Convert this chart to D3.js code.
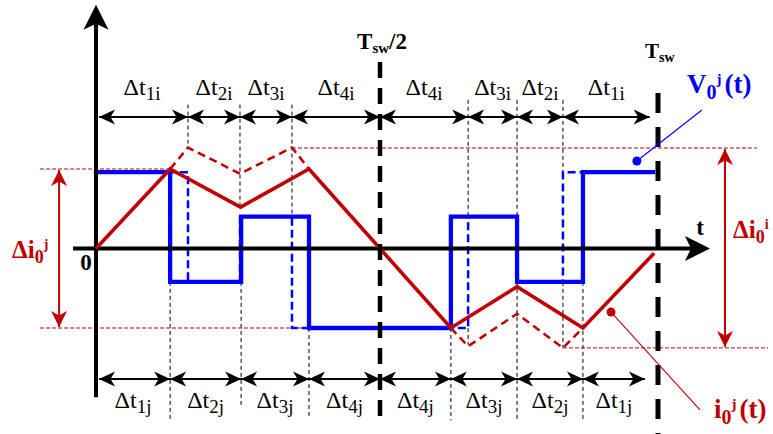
<!DOCTYPE html>
<html>
<head>
<meta charset="utf-8">
<script src="https://cdn.jsdelivr.net/npm/d3@7"></script>
<style>
  html, body { margin: 0; padding: 0; background: #fff; }
  svg { display: block; }
</style>
</head>
<body>
<div id="chart"></div>
<script>
// time axis: 0..200 = one switching period (100 = Tsw/2)
// value axis: normalised so that the j-current ripple spans -1..1

// interval boundaries (i = dashed waveforms, j = solid waveforms)
var tI = [0, 32.4, 50.7, 69, 100, 131.7, 149.3, 165.8, 197];
var tJ = [0, 26.1, 51.1, 75, 100, 125.5, 149.3, 173, 195.3];
var subI = ['1i', '2i', '3i', '4i', '4i', '3i', '2i', '1i'];
var subJ = ['1j', '2j', '3j', '4j', '4j', '3j', '2j', '1j'];

// output voltage level in each interval
var vLevelsJ = [0.96, -0.42, 0.4, -1, -1, 0.4, -0.42, 0.96];
var vLevelsI = [0.96, -0.42, 0.4, -1, -1, 0.4, -0.42, 0.96];
var vEnd = 198.2;

// output current, solid (j)
var iJt = [0, 26.1, 50.9, 75, 100, 125.5, 149.3, 173, 198.6];
var iJv = [0, 1, 0.52, 1, 0, -1, -0.48, -1, -0.06];
// output current, dashed (i) — upper and lower excursions
var iUpT = [26.1, 32.4, 50.7, 69, 75];
var iUpV = [1, 1.27, 0.94, 1.27, 1];
var iDnT = [125.5, 131.7, 149.3, 165.8, 173];
var iDnV = [-1, -1.23, -0.82, -1.25, -1];

var width = 773, height = 434;
var RED = '#c00000', BLUE = '#0000ff';
var FONT = '"Liberation Serif", "Times New Roman", Times, "DejaVu Serif", serif';

var x = d3.scaleLinear().domain([0, 100, 200]).range([96, 380, 658]);
var y = d3.scaleLinear().domain([-1, 1]).range([328, 169]);

var svg = d3.select('#chart').append('svg')
  .attr('width', width)
  .attr('height', height)
  .attr('viewBox', [0, 0, width, height]);

var defs = svg.append('defs');
function marker(id, color, len, half, notch, back) {
  defs.append('marker')
    .attr('id', id)
    .attr('markerUnits', 'userSpaceOnUse')
    .attr('viewBox', [-len - 2, -half - 2, len + back + 4, 2 * half + 4].join(' '))
    .attr('markerWidth', len + back + 4)
    .attr('markerHeight', 2 * half + 4)
    .attr('refX', -back)
    .attr('refY', 0)
    .attr('orient', 'auto-start-reverse')
    .append('path')
      .attr('d', 'M0,0L' + (-len) + ',' + (-half) + 'L' + (-len + notch) + ',0L' + (-len) + ',' + half + 'Z')
      .attr('fill', color);
}
marker('arrK', '#000', 16, 7.5, 4.5, 0);
marker('arrR', RED, 16, 8, 4.5, 0);
marker('arrAxis', '#000', 25, 12.5, 6, 10);

var line = d3.line().x(function (d) { return x(d[0]); }).y(function (d) { return y(d[1]); });
var step = d3.line().x(function (d) { return x(d[0]); }).y(function (d) { return y(d[1]); }).curve(d3.curveStepAfter);

function zip(ts, vs) { return ts.map(function (t, k) { return [t, vs[k]]; }); }
function stepPts(bounds, levels) {
  var pts = levels.map(function (v, k) { return [bounds[k], v]; });
  pts.push([vEnd, levels[levels.length - 1]]);
  return pts;
}

// thin black dashed boundary markers [t, vFrom, vTo]
var guides = [
  [32.4, 1.81, 1.27], [50.7, 1.81, 0.52], [69, 1.81, 0.4],
  [131.7, 1.87, 0.4], [131.7, -1.0, -1.21],
  [149.3, 1.87, 0.4], [149.3, -0.42, -2.16],
  [165.8, 1.87, 0.96], [165.8, -0.42, -1.25],
  [26.1, -0.42, -2.16], [51.1, -0.42, -2.0], [75, -1, -2.12],
  [125.5, -1, -2.16], [173, -0.42, -2.16]
];
svg.append('g').selectAll('line').data(guides).join('line')
  .attr('x1', function (d) { return x(d[0]); })
  .attr('x2', function (d) { return x(d[0]); })
  .attr('y1', function (d) { return y(d[1]); })
  .attr('y2', function (d) { return y(d[2]); })
  .attr('stroke', '#000')
  .attr('stroke-width', 1)
  .attr('stroke-dasharray', '4,3');

// red thin dashed ripple limits [tFrom, tTo, v]
var limits = [[-19.7, 26.1, 1], [-19.7, 75, -1], [69, 235.6, 1.264], [165.8, 239.6, -1.25]];
svg.append('g').selectAll('line').data(limits).join('line')
  .attr('x1', function (d) { return x(d[0]); })
  .attr('x2', function (d) { return x(d[1]); })
  .attr('y1', function (d) { return y(d[2]); })
  .attr('y2', function (d) { return y(d[2]); })
  .attr('stroke', RED)
  .attr('stroke-width', 1)
  .attr('stroke-dasharray', '4,2');

// voltage: dashed (i) under solid (j)
svg.append('path')
  .attr('d', step(stepPts(tI, vLevelsI)))
  .attr('fill', 'none').attr('stroke', BLUE).attr('stroke-width', 2.5)
  .attr('stroke-dasharray', '8,4');
svg.append('path')
  .attr('d', step(stepPts(tJ, vLevelsJ)))
  .attr('fill', 'none').attr('stroke', BLUE).attr('stroke-width', 4.3)
  .attr('stroke-linejoin', 'miter').attr('stroke-linecap', 'square');

// axes
svg.append('line')
  .attr('x1', x(0)).attr('x2', x(0))
  .attr('y1', y(-1.87)).attr('y2', y(2.94))
  .attr('stroke', '#000').attr('stroke-width', 4)
  .attr('marker-end', 'url(#arrAxis)');
svg.append('line')
  .attr('x1', x(-8.1)).attr('x2', x(215.1))
  .attr('y1', y(0)).attr('y2', y(0))
  .attr('stroke', '#000').attr('stroke-width', 4)
  .attr('marker-end', 'url(#arrAxis)');

// current: dashed (i) then solid (j)
[zip(iUpT, iUpV), zip(iDnT, iDnV)].forEach(function (pts) {
  svg.append('path')
    .attr('d', line(pts))
    .attr('fill', 'none').attr('stroke', RED).attr('stroke-width', 2.5)
    .attr('stroke-dasharray', '8,5');
});
svg.append('path')
  .attr('d', line(zip(iJt, iJv)))
  .attr('fill', 'none').attr('stroke', RED).attr('stroke-width', 3.6)
  .attr('stroke-linejoin', 'miter');

// Tsw/2 and Tsw
svg.append('line')
  .attr('x1', x(100)).attr('x2', x(100))
  .attr('y1', y(2.346)).attr('y2', y(-2.12))
  .attr('stroke', '#000').attr('stroke-width', 4.5)
  .attr('stroke-dasharray', '16,10');
svg.append('line')
  .attr('x1', x(200)).attr('x2', x(200))
  .attr('y1', y(1.956)).attr('y2', y(-2.35))
  .attr('stroke', '#000').attr('stroke-width', 5)
  .attr('stroke-dasharray', '20,14');

// interval arrows
function intervalRow(bounds, vRow) {
  var segs = d3.pairs(bounds);
  svg.append('g').selectAll('line').data(segs).join('line')
    .attr('x1', function (d, k) { return x(d[0]) + (k === 0 ? 3 : 0); })
    .attr('x2', function (d) { return x(d[1]); })
    .attr('y1', y(vRow)).attr('y2', y(vRow))
    .attr('stroke', '#000').attr('stroke-width', 2)
    .attr('marker-start', 'url(#arrK)')
    .attr('marker-end', 'url(#arrK)');
}
intervalRow(tI, 1.653);
intervalRow(tJ, -1.642);

function rich(g, px, py, anchor, color, weight, parts) {
  var t = g.append('text')
    .attr('x', px).attr('y', py)
    .attr('text-anchor', anchor)
    .attr('font-family', FONT)
    .attr('fill', color)
    .attr('font-weight', weight);
  parts.forEach(function (p) {
    var s = t.append('tspan').attr('font-size', p.size + 'px').text(p.t);
    if (p.dy) s.attr('dy', p.dy);
    if (p.dx) s.attr('dx', p.dx);
  });
  return t;
}

var labels = svg.append('g');
d3.pairs(tI).forEach(function (d, k) {
  rich(labels, (x(d[0]) + x(d[1])) / 2, y(1.93), 'middle', '#000', 'normal',
    [{ t: 'Δt', size: 24 }, { t: subI[k], size: 19, dy: 5 }]);
});
d3.pairs(tJ).forEach(function (d, k) {
  rich(labels, (x(d[0]) + x(d[1])) / 2, y(-2.0), 'middle', '#000', 'normal',
    [{ t: 'Δt', size: 24 }, { t: subJ[k], size: 19, dy: 5 }]);
});

rich(labels, x(100) + 2, 49, 'middle', '#000', 'bold',
  [{ t: 'T', size: 23 }, { t: 'sw', size: 15, dy: 4 }, { t: '/2', size: 23, dy: -4 }]);
rich(labels, 645, 58, 'start', '#000', 'bold',
  [{ t: 'T', size: 21 }, { t: 'sw', size: 14, dy: 4 }]);
rich(labels, 86, 270, 'middle', '#000', 'bold', [{ t: '0', size: 23 }]);
rich(labels, 700, 235, 'middle', '#000', 'bold', [{ t: 't', size: 23 }]);

rich(labels, 687, 93, 'start', BLUE, 'bold',
  [{ t: 'V', size: 27 }, { t: '0', size: 20, dy: 6 }, { t: 'j', size: 15, dy: -15 }, { t: '(t)', size: 27, dy: 9, dx: 3 }]);
rich(labels, 714, 418, 'start', RED, 'bold',
  [{ t: 'i', size: 27 }, { t: '0', size: 20, dy: 6 }, { t: 'j', size: 15, dy: -15 }, { t: '(t)', size: 27, dy: 9, dx: 3 }]);
rich(labels, 12, 258, 'start', RED, 'bold',
  [{ t: 'Δi', size: 25 }, { t: '0', size: 18, dy: 5 }, { t: 'j', size: 14, dy: -14 }]);
rich(labels, 733, 238, 'start', RED, 'bold',
  [{ t: 'Δi', size: 25 }, { t: '0', size: 18, dy: 5 }, { t: 'i', size: 14, dy: -14 }]);

// ripple span arrows
[[-13.0, 1, -1], [224.1, 1.264, -1.25]].forEach(function (d) {
  svg.append('line')
    .attr('x1', x(d[0])).attr('x2', x(d[0]))
    .attr('y1', y(d[1]) + 1).attr('y2', y(d[2]) - 1)
    .attr('stroke', RED).attr('stroke-width', 2)
    .attr('marker-start', 'url(#arrR)')
    .attr('marker-end', 'url(#arrR)');
});

// leader lines with dots
[[192.4, 1.10, 215.8, 1.742, BLUE], [183.1, -0.80, 215.1, -2.03, RED]].forEach(function (d) {
  svg.append('line')
    .attr('x1', x(d[0])).attr('y1', y(d[1]))
    .attr('x2', x(d[2])).attr('y2', y(d[3]))
    .attr('stroke', d[4]).attr('stroke-width', 1.1);
  svg.append('circle')
    .attr('cx', x(d[0])).attr('cy', y(d[1]))
    .attr('r', 4.5).attr('fill', d[4]);
});
</script>
</body>
</html>
